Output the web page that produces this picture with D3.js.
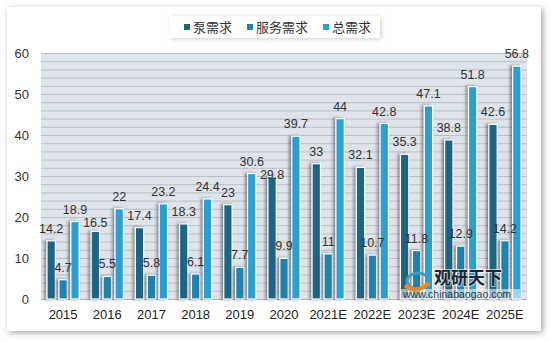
<!DOCTYPE html>
<html><head><meta charset="utf-8">
<script src="https://cdn.jsdelivr.net/npm/d3@7"></script>
<style>
body{margin:0;background:#fff;}
svg{display:block;font-family:"Liberation Sans",Arial,sans-serif;}
</style></head><body>
<svg id="c" width="551" height="342"></svg>
<script>
const categories = ["2015","2016","2017","2018","2019","2020","2021E","2022E","2023E","2024E","2025E"];
const seriesNames = ["泵需求","服务需求","总需求"];
const pumpDemand = [14.2,16.5,17.4,18.3,23,29.8,33,32.1,35.3,38.8,42.6];
const serviceDemand = [4.7,5.5,5.8,6.1,7.7,9.9,11,10.7,11.8,12.9,14.2];
const totalDemand = [18.9,22,23.2,24.4,30.6,39.7,44,42.8,47.1,51.8,56.8];
const yTicks = [0,10,20,30,40,50,60];
const colors = ["#1a6585","#1f84ae","#2b9fd4"];

const svg = d3.select("#c");
const defs = svg.append("defs");
const f = defs.append("filter").attr("id","card").attr("x","-5%").attr("y","-5%").attr("width","110%").attr("height","110%");
f.append("feDropShadow").attr("dx",2).attr("dy",2).attr("stdDeviation",3).attr("flood-color","#000").attr("flood-opacity",0.35);
const fb = defs.append("filter").attr("id","bar").attr("x","-100%").attr("y","-10%").attr("width","300%").attr("height","120%");
fb.append("feDropShadow").attr("dx",-2).attr("dy",0).attr("stdDeviation",1.8).attr("flood-color","#333").attr("flood-opacity",0.55);
const fl = defs.append("filter").attr("id","leg").attr("x","-10%").attr("y","-30%").attr("width","120%").attr("height","160%");
fl.append("feDropShadow").attr("dx",1).attr("dy",1).attr("stdDeviation",2).attr("flood-color","#000").attr("flood-opacity",0.2);

// card
svg.append("rect").attr("x",7).attr("y",7).attr("width",534).attr("height",324).attr("fill","#fff").attr("filter","url(#card)");

const L=41,R=527,T=53,B=299;
const x0 = d3.scaleBand().domain(categories).range([L,R]);
const x1 = d3.scaleBand().domain(seriesNames).range([6, x0.bandwidth()-6]).paddingInner(0.3);
const y = d3.scaleLinear().domain([0,60]).range([B,T]);

svg.append("rect").attr("x",L).attr("y",T).attr("width",R-L).attr("height",B-T).attr("fill","#dfe4ea");
svg.append("g").selectAll("line").data(d3.range(2,61,2)).join("line")
  .attr("x1",L).attr("x2",R).attr("y1",d=>y(d)+0.5).attr("y2",d=>y(d)+0.5)
  .attr("stroke","#b9bfc7").attr("stroke-width",1);
svg.append("line").attr("x1",L).attr("x2",R).attr("y1",B+0.5).attr("y2",B+0.5).attr("stroke","#a9afb7");

// y axis
const ya = svg.append("g").attr("transform",`translate(${L-12},0)`)
  .call(d3.axisLeft(y).tickValues(yTicks).tickSize(0).tickPadding(0));
ya.select(".domain").remove();
ya.selectAll("text").attr("font-size",13).attr("fill","#333").attr("font-family","Liberation Sans, Arial, sans-serif");

// x axis
const xa = svg.append("g").attr("transform",`translate(0,${B})`)
  .call(d3.axisBottom(x0).tickSize(0).tickPadding(11));
xa.select(".domain").remove();
xa.selectAll("text").attr("font-size",13).attr("fill","#222").attr("font-family","Liberation Sans, Arial, sans-serif");

const data = categories.map((c,i)=>({c, v:[pumpDemand[i],serviceDemand[i],totalDemand[i]]}));
const groups = svg.append("g").selectAll("g").data(data).join("g").attr("transform",d=>`translate(${x0(d.c)},0)`);
groups.selectAll("rect").data(d=>d.v.map((v,k)=>({v,k,s:seriesNames[k]}))).join("rect")
  .attr("x",d=>x1(d.s)).attr("width",x1.bandwidth())
  .attr("y",d=>y(d.v)).attr("height",d=>B-y(d.v))
  .attr("fill",d=>colors[d.k]).attr("stroke","#fff").attr("stroke-width",1.2)
  .attr("filter","url(#bar)");

// watermark
const wm = svg.append("g");
wm.append("rect").attr("x",401).attr("y",289).attr("width",119).attr("height",10).attr("fill","#fff").attr("opacity",0.55);
wm.append("path").attr("d","M407,281 a11,8 0 1,1 22,0 a11,8 0 1,1 -22,0").attr("fill","none").attr("stroke","#3a9ad0").attr("stroke-width",3);
wm.append("path").attr("d","M405,285 q10,10 24,-2").attr("fill","none").attr("stroke","#f08a1c").attr("stroke-width",4);
wm.append("text").attr("x",434).attr("y",284).attr("font-size",17).attr("font-weight","bold").attr("fill","#1c2530")
  .attr("stroke","#fff").attr("stroke-width",2).attr("stroke-opacity",0.6).attr("paint-order","stroke")
  .attr("font-family","Noto Sans CJK SC").text("观研天下");
wm.append("text").attr("x",403).attr("y",298).attr("font-size",10.5).attr("fill","#2a3a4a").text("www.chinabaogao.com");

// value labels with simple collision avoidance
const labelG = svg.append("g");
const placed = [];
data.forEach(d=>{
  d.v.forEach((v,k)=>{
    const cx = x0(d.c)+x1(seriesNames[k])+x1.bandwidth()/2;
    let by = y(v)-8;
    const t = labelG.append("text").attr("x",cx).attr("y",by)
      .attr("text-anchor","middle").attr("font-size",12.5).attr("fill","#333").text(v);
    const w = t.node().getComputedTextLength();
    const h = 10;
    let box = {x0:cx-w/2, x1:cx+w/2, y0:by-h, y1:by};
    for (const p of placed){
      if (box.x0 < p.x1-1 && box.x1 > p.x0+1 && box.y0 < p.y1 && box.y1 > p.y0){
        by = p.y1 + h + 3;
        box = {x0:cx-w/2, x1:cx+w/2, y0:by-h, y1:by};
      }
    }
    t.attr("y",by);
    placed.push(box);
  });
});

// legend
const lg = svg.append("g");
lg.append("rect").attr("x",170).attr("y",16).attr("width",210).attr("height",22).attr("fill","#fff").attr("filter","url(#leg)");
let lx=184;
seriesNames.forEach((n,k)=>{
  lg.append("rect").attr("x",lx).attr("y",24).attr("width",6).attr("height",6).attr("fill",colors[k]);
  const t = lg.append("text").attr("x",lx+9).attr("y",32).attr("font-size",13).attr("fill","#333")
    .attr("font-family","Noto Sans CJK SC").text(n);
  lx += 9 + t.node().getComputedTextLength() + 15;
});
</script></body></html>
